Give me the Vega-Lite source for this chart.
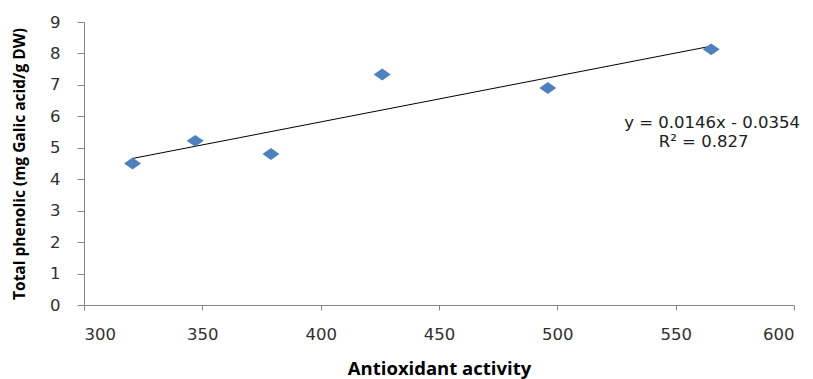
{
  "$schema": "https://vega.github.io/schema/vega-lite/v6.json",
  "width": 710,
  "height": 283,
  "autosize": {"type": "none"},
  "padding": {"left": 84, "top": 22, "right": 19, "bottom": 74},
  "background": "white",
  "config": {
    "view": {"stroke": null},
    "axis": {
      "grid": false,
      "domainColor": "#868686",
      "tickColor": "#868686",
      "labelFont": "DejaVu Sans",
      "labelFontSize": 16.5,
      "labelColor": "#303030",
      "labelOverlap": false,
      "titleFont": "Open Sans",
      "titleFontWeight": "bold",
      "titleColor": "#000000"
    }
  },
  "data": {
    "values": [
      {"activity": 320.5, "phenolic": 4.5},
      {"activity": 347, "phenolic": 5.22},
      {"activity": 379, "phenolic": 4.8},
      {"activity": 426, "phenolic": 7.33},
      {"activity": 496, "phenolic": 6.9},
      {"activity": 565, "phenolic": 8.13}
    ]
  },
  "encoding": {
    "x": {
      "field": "activity", "type": "quantitative",
      "scale": {"domain": [300, 600], "nice": false, "zero": false},
      "axis": {"values": [300, 350, 400, 450, 500, 550, 600], "title": "Antioxidant activity", "tickSize": 5, "labelBaseline": "alphabetic", "labelPadding": 29, "titleFontSize": 18.5, "titleBaseline": "alphabetic", "titleY": 69}
    },
    "y": {
      "field": "phenolic", "type": "quantitative",
      "scale": {"domain": [0, 9], "nice": false},
      "axis": {"values": [0, 1, 2, 3, 4, 5, 6, 7, 8, 9], "title": "Total phenolic (mg Galic acid/g DW)", "tickSize": 7, "labelPadding": 17, "titleFontSize": 15.5, "titleBaseline": "middle", "titleX": -65}
    }
  },
  "layer": [
    {
      "transform": [{"regression": "phenolic", "on": "activity"}],
      "mark": {"type": "line", "color": "#000000", "strokeWidth": 1}
    },
    {
      "mark": {"type": "point", "shape": "M-1,0L0,-0.7L1,0L0,0.7Z", "filled": true, "color": "#4F81BD", "opacity": 1, "size": 289}
    },
    {
      "data": {
        "values": [
          {"activity": 565.4, "phenolic": 5.78, "label": "y = 0.0146x - 0.0354"},
          {"activity": 561.8, "phenolic": 5.18, "label": "R² = 0.827"}
        ]
      },
      "mark": {"type": "text", "font": "DejaVu Sans", "fontSize": 16.5, "color": "#202020", "align": "center", "baseline": "middle"},
      "encoding": {
        "text": {"field": "label"}
      }
    }
  ]
}
